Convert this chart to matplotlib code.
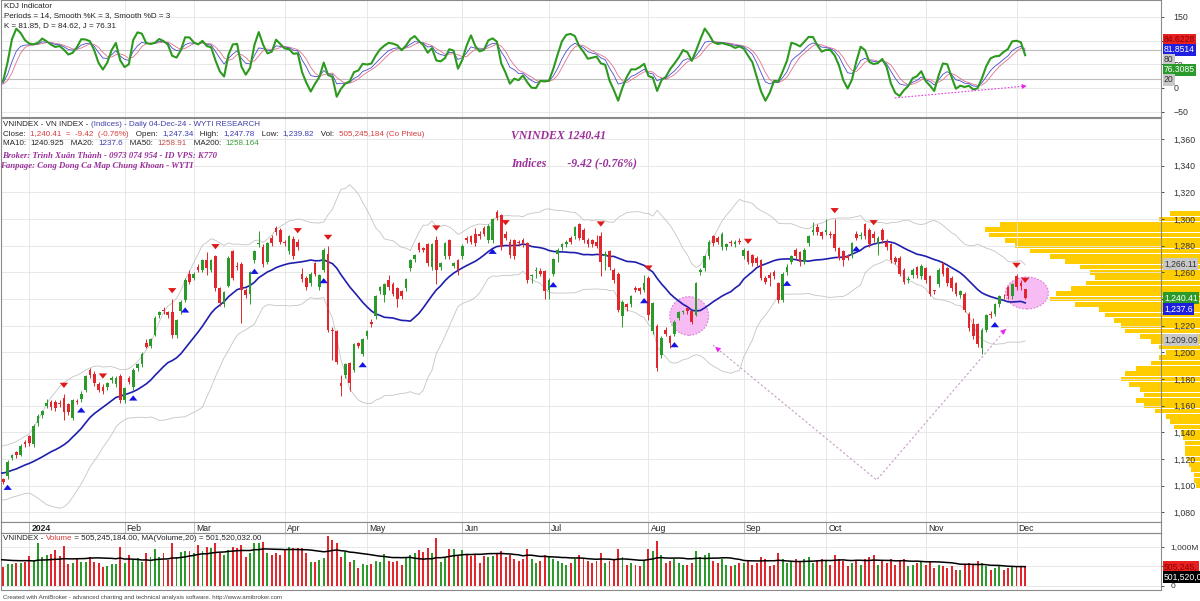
import matplotlib

matplotlib.use("Agg")
import matplotlib.pyplot as plt
import numpy as np
import pandas as pd
from matplotlib.patches import Ellipse

W, H = 1200, 601
X0, DX = 3.3, 4.33  # pixel centre of first bar, pixels per bar

GREEN = "#2a9a2a"
RED = "#e3262b"
NAVY = "#1f1fae"
GRID = "#e4e4e4"
PURPLE = "#9a2f9a"
SANS = "Liberation Sans"
SERIF = "Liberation Serif"

START, END = "2023-12-22", "2024-12-04"
HOLIDAYS = ["2024-01-01", "2024-02-08", "2024-02-09", "2024-02-12", "2024-02-13",
            "2024-02-14", "2024-04-18", "2024-04-29", "2024-04-30", "2024-05-01",
            "2024-09-02", "2024-09-03"]

# closes of the 20 sessions before the first visible bar (indicator warm-up)
warm_close = [1105, 1102, 1098, 1103, 1100, 1102, 1108, 1115, 1118, 1122,
              1124, 1121, 1128, 1126, 1115, 1106, 1098, 1100, 1102, 1099]
warm_vol = [650, 700, 720, 680, 640, 600, 750, 800, 700, 690,
            720, 650, 800, 700, 760, 640, 600, 620, 580, 560]

opens = [
    1105, 1107, 1121, 1125, 1123, 1133,
    1137, 1131, 1147, 1153, 1160, 1163, 1163, 1162, 1166, 1161, 1151, 1163, 1165, 1172, 1187, 1184,
    1176, 1174, 1174, 1179, 1176, 1182,
    1164, 1181, 1174, 1188, 1191, 1207, 1205, 1213, 1228, 1232, 1230, 1230, 1213, 1231, 1239, 1259,
    1256, 1264, 1262, 1269, 1262, 1272, 1248, 1236, 1250, 1276, 1264, 1266, 1247, 1244, 1269, 1281,
    1279, 1268, 1286, 1293, 1292,
    1282, 1276, 1285, 1283, 1259, 1256, 1252, 1267, 1249, 1262, 1274, 1216, 1216, 1177, 1183, 1192,
    1187, 1207, 1199,
    1212, 1223, 1227, 1246, 1243, 1254, 1251, 1248, 1246, 1248, 1263, 1270, 1282, 1278, 1281, 1264,
    1284, 1264, 1272, 1284, 1265, 1269,
    1272, 1286, 1287, 1289, 1289, 1293, 1284, 1284, 1305, 1303, 1289, 1283, 1284, 1282, 1284, 1282,
    1257, 1261, 1261, 1261,
    1247, 1259, 1274, 1279, 1281, 1286, 1287, 1296, 1292, 1284, 1284, 1283, 1287, 1272, 1276, 1262,
    1259, 1227, 1236, 1236, 1248, 1248, 1247,
    1256, 1216, 1220, 1198, 1217, 1212, 1214, 1226, 1230, 1233, 1231, 1228, 1260, 1263, 1272, 1287,
    1286, 1279, 1279, 1283, 1281, 1283,
    1272, 1276, 1273, 1271, 1269, 1256, 1258, 1260, 1252, 1239, 1260, 1268, 1277, 1275, 1268, 1282,
    1290, 1294, 1290,
    1290, 1289, 1289, 1278, 1276, 1272, 1273, 1289, 1287, 1296, 1292, 1289, 1281, 1292, 1283, 1281,
    1271, 1271, 1262, 1254, 1258, 1264, 1257,
    1263, 1257, 1246, 1251, 1267, 1263, 1256, 1252, 1243, 1244, 1229, 1221, 1221, 1203, 1217, 1229,
    1229, 1236, 1242, 1249, 1242,
    1257, 1252, 1247.34,
]
highs = [
    1106, 1119, 1124, 1126, 1131, 1134,
    1138, 1146, 1154, 1157, 1165, 1164, 1164, 1164, 1169, 1162, 1165, 1165, 1171, 1183, 1188, 1186,
    1178, 1176, 1178, 1182, 1182, 1184,
    1174, 1182, 1188, 1192, 1200, 1210, 1211, 1227, 1231, 1234, 1231, 1240, 1225, 1239, 1256, 1262,
    1260, 1266, 1270, 1275, 1270, 1273, 1249, 1246, 1272, 1277, 1268, 1268, 1248, 1261, 1277, 1291,
    1281, 1283, 1288, 1295, 1293,
    1284, 1288, 1287, 1285, 1263, 1257, 1260, 1268, 1259, 1278, 1280, 1219, 1217, 1183, 1192, 1193,
    1207, 1208, 1211,
    1217, 1225, 1243, 1250, 1252, 1258, 1253, 1249, 1247, 1256, 1270, 1274, 1283, 1279, 1282, 1282,
    1287, 1268, 1283, 1285, 1268, 1270,
    1281, 1287, 1288, 1293, 1291, 1295, 1296, 1301, 1307, 1304, 1291, 1285, 1285, 1284, 1286, 1283,
    1259, 1264, 1263, 1262,
    1256, 1271, 1278, 1282, 1284, 1287, 1295, 1297, 1293, 1286, 1285, 1288, 1290, 1276, 1277, 1263,
    1260, 1239, 1237, 1243, 1250, 1249, 1258,
    1257, 1238, 1221, 1212, 1219, 1213, 1224, 1231, 1232, 1234, 1232, 1253, 1263, 1273, 1284, 1288,
    1287, 1290, 1282, 1284, 1284, 1286,
    1278, 1277, 1274, 1272, 1270, 1257, 1260, 1262, 1253, 1260, 1266, 1273, 1278, 1276, 1278, 1288,
    1298, 1296, 1291,
    1300, 1291, 1300, 1279, 1277, 1274, 1283, 1291, 1290, 1297, 1293, 1291, 1287, 1293, 1285, 1282,
    1272, 1272, 1263, 1257, 1263, 1265, 1266,
    1264, 1258, 1247, 1263, 1268, 1264, 1257, 1253, 1247, 1245, 1230, 1226, 1222, 1218, 1229, 1231,
    1237, 1243, 1244, 1250, 1252,
    1259, 1254, 1247.78,
]
lows = [
    1101, 1105, 1119, 1121, 1122, 1129,
    1130, 1129, 1145, 1151, 1158, 1157, 1156, 1159, 1149, 1153, 1149, 1161, 1163, 1170, 1181, 1175,
    1170, 1169, 1172, 1177, 1174, 1162,
    1162, 1176, 1172, 1186, 1189, 1203, 1203, 1212, 1226, 1229, 1226, 1211, 1211, 1229, 1238, 1251,
    1254, 1260, 1260, 1258, 1260, 1246, 1235, 1234, 1249, 1254, 1262, 1222, 1241, 1236, 1267, 1279,
    1264, 1266, 1280, 1288, 1281,
    1280, 1274, 1270, 1277, 1253, 1247, 1250, 1257, 1247, 1260, 1215, 1194, 1191, 1167, 1181, 1171,
    1185, 1203, 1197,
    1210, 1219, 1225, 1244, 1238, 1247, 1242, 1234, 1240, 1246, 1261, 1268, 1275, 1275, 1265, 1262,
    1251, 1262, 1270, 1270, 1263, 1258,
    1270, 1282, 1281, 1280, 1285, 1287, 1282, 1282, 1299, 1277, 1284, 1271, 1270, 1280, 1279, 1252,
    1252, 1256, 1257, 1240,
    1240, 1257, 1268, 1277, 1279, 1281, 1285, 1284, 1282, 1279, 1279, 1278, 1257, 1262, 1262, 1252,
    1230, 1219, 1231, 1234, 1245, 1244, 1245,
    1224, 1214, 1186, 1196, 1212, 1203, 1212, 1224, 1229, 1229, 1221, 1227, 1258, 1261, 1270, 1280,
    1281, 1277, 1277, 1280, 1279, 1281,
    1270, 1266, 1265, 1265, 1254, 1251, 1250, 1255, 1237, 1238, 1258, 1266, 1270, 1265, 1266, 1280,
    1288, 1288, 1285,
    1288, 1286, 1276, 1269, 1265, 1269, 1271, 1284, 1285, 1285, 1279, 1283, 1273, 1282, 1277, 1267,
    1266, 1257, 1251, 1252, 1256, 1256, 1255,
    1252, 1242, 1244, 1249, 1257, 1250, 1246, 1242, 1241, 1230, 1216, 1210, 1204, 1199, 1215, 1226,
    1227, 1234, 1240, 1240, 1240,
    1247, 1247, 1239.82,
]
closes = [
    1103, 1118, 1123, 1123, 1130, 1131,
    1132, 1145, 1152, 1156, 1162, 1159, 1158, 1161, 1155, 1155, 1164, 1163, 1169, 1182, 1183, 1177,
    1172, 1171, 1177, 1181, 1181, 1164,
    1173, 1178, 1187, 1191, 1199, 1204, 1210, 1226, 1230, 1231, 1228, 1213, 1224, 1238, 1254, 1253,
    1259, 1262, 1269, 1263, 1269, 1248, 1237, 1245, 1271, 1256, 1264, 1247, 1243, 1260, 1276, 1282,
    1266, 1282, 1282, 1290, 1283,
    1282, 1287, 1272, 1279, 1255, 1249, 1259, 1259, 1258, 1277, 1217, 1216, 1193, 1175, 1191, 1177,
    1206, 1205, 1210,
    1216, 1221, 1242, 1249, 1251, 1249, 1244, 1240, 1242, 1255, 1269, 1273, 1277, 1277, 1267, 1281,
    1262, 1267, 1282, 1272, 1267, 1262,
    1280, 1284, 1283, 1282, 1287, 1289, 1295, 1300, 1301, 1279, 1286, 1273, 1272, 1282, 1282, 1254,
    1258, 1262, 1259, 1246,
    1254, 1270, 1277, 1281, 1283, 1283, 1294, 1286, 1284, 1281, 1281, 1280, 1268, 1274, 1264, 1254,
    1232, 1238, 1234, 1242, 1247, 1246, 1252,
    1228, 1237, 1188, 1211, 1214, 1207, 1223, 1230, 1231, 1231, 1223, 1252, 1262, 1272, 1283, 1282,
    1283, 1289, 1281, 1282, 1283, 1283,
    1277, 1268, 1267, 1267, 1256, 1253, 1256, 1257, 1239, 1259, 1264, 1272, 1272, 1268, 1277, 1287,
    1292, 1290, 1287,
    1292, 1288, 1278, 1271, 1269, 1271, 1282, 1286, 1288, 1287, 1281, 1286, 1286, 1284, 1279, 1269,
    1268, 1259, 1253, 1255, 1262, 1258, 1265,
    1254, 1244, 1246, 1262, 1259, 1252, 1248, 1244, 1246, 1232, 1218, 1212, 1206, 1217, 1228, 1228,
    1236, 1242, 1242, 1242, 1251,
    1249, 1249.83, 1240.41,
]
# volume in millions of shares
volumes = [
    496, 556, 564, 581, 598, 624,
    769, 650, 1094, 752, 795, 821, 923, 769, 1026, 556, 581, 684, 624, 624, 752, 624,
    581, 479, 513, 564, 564, 1009,
    581, 795, 667, 709, 624, 838, 752, 949, 752, 855, 667, 1094, 752, 880, 897, 906,
    838, 1051, 906, 992, 966, 1094, 838, 795, 923, 992, 966, 1043, 752, 855, 1094, 1094,
    1137, 838, 795, 855, 795,
    923, 992, 966, 966, 983, 838, 624, 624, 667, 709, 1282, 1180, 1094, 752, 880, 624,
    667, 453, 564,
    538, 564, 650, 624, 821, 650, 607, 650, 538, 752, 795, 838, 923, 880, 966, 838,
    1222, 624, 709, 940, 940, 769,
    923, 795, 769, 795, 581, 769, 752, 769, 838, 900, 750, 800, 700, 650, 700, 950,
    700, 600, 650, 800,
    750, 700, 650, 600, 550, 600, 700, 800, 700, 650, 600, 650, 850, 600, 650, 700,
    950, 750, 550, 600, 550, 500, 650,
    950, 900, 1150, 800, 600, 650, 700, 600, 550, 550, 600, 900, 750, 800, 850, 650,
    600, 700, 550, 500, 550, 600,
    600, 650, 550, 600, 750, 700, 500, 550, 850, 700, 600, 650, 700, 650, 700, 750,
    600, 650, 700,
    650, 550, 800, 700, 650, 500, 600, 650, 550, 700, 750, 800, 550, 650, 600, 700,
    550, 650, 700, 500, 550, 600, 650,
    550, 650, 450, 550, 500, 450, 500, 420, 400, 550, 600, 550, 650, 600, 500, 420,
    450, 500, 400, 450, 480,
    520, 480, 505.245,
]

# price-volume distribution (relative volume, max = 100)
profile_levels = list(range(1100, 1308, 4))
profile_rel = [2, 3, 3, 4, 5, 6, 7, 7, 7, 8, 9, 12, 14, 16, 21, 26, 30, 26, 28, 33,
               37, 35, 30, 23, 19, 16, 19, 23, 28, 35, 37, 40, 44, 47, 58, 70, 67, 60,
               53, 49, 51, 56, 63, 70, 79, 86, 91, 98, 100, 93, 19, 14]

buy_idx = [1, 18, 30, 42, 58, 74, 83, 113, 127, 148, 155, 181, 197, 229]
sell_idx = [14, 23, 39, 49, 68, 75, 100, 116, 138, 149, 172, 192, 201, 234, 236]


def _rect(x0, y0, x1, y1):
    return [x0 / W, 1 - y1 / H, (x1 - x0) / W, (y1 - y0) / H]


def _seg(fig, x, y, parts, size, family=SANS, **kw):
    r = fig.canvas.get_renderer()
    for s, col in parts:
        t = fig.text(x / W, 1 - y / H, s, color=col, fontsize=size, family=family,
                     va="center", ha="left", **kw)
        x += t.get_window_extent(r).width


def _box(fig, x, y, s, fc, tc, size=6.2):
    fig.text(x / W, 1 - y / H, s, fontsize=size, family=SANS, color=tc, va="center",
             ha="left", zorder=20, clip_on=False,
             bbox=dict(boxstyle="square,pad=0.12", fc=fc, ec="none"))


def _frame(ax, xl, month_idx, pad=7, size=6.3):
    ax.set_xlim(*xl)
    ax.set_facecolor("none")
    for sp in ax.spines.values():
        sp.set_color("#8a8a8a")
        sp.set_linewidth(0.8)
    ax.set_xticks(month_idx)
    ax.tick_params(axis="x", length=0, labelbottom=False)
    ax.yaxis.tick_right()
    ax.tick_params(axis="y", direction="out", length=2, width=0.6, pad=pad,
                   labelsize=size, colors="#333333")
    for lab in ax.get_yticklabels():
        lab.set_family(SANS)
    ax.grid(True, color=GRID, lw=0.6, zorder=0)
    ax.set_axisbelow(True)


def main():
    o = np.array(opens, float)
    c = np.array(closes, float)
    hi = np.maximum(np.array(highs, float), np.maximum(o, c))
    lo = np.minimum(np.array(lows, float), np.minimum(o, c))
    v = np.array(volumes, float)
    n = len(c)
    x = np.arange(n)
    nw = len(warm_close)
    xa = np.arange(-nw, n)

    days = pd.bdate_range(START, END)
    days = days[~days.isin(pd.to_datetime(HOLIDAYS))][:n]
    per = days.to_period("M")
    month_idx = [i for i in range(1, len(days)) if per[i] != per[i - 1]]
    month_lab = ["2024" if days[i].month == 1 else days[i].strftime("%b") for i in month_idx]

    # indicators
    ca = pd.Series(np.r_[warm_close, c])
    ha = pd.Series(np.r_[warm_close, hi])
    la = pd.Series(np.r_[warm_close, lo])
    ma20 = ca.rolling(20).mean()
    sd20 = ca.rolling(20).std(ddof=0)
    llv = la.rolling(14).min()
    hhv = ha.rolling(14).max()
    rsv = (ca - llv) / (hhv - llv) * 100
    k = rsv.rolling(3).mean()
    d = k.rolling(3).mean()
    j = 3 * k - 2 * d
    vma = pd.Series(np.r_[warm_vol, v]).rolling(20).mean()

    fig = plt.figure(figsize=(W / 100, H / 100), dpi=100)
    fig.patch.set_facecolor("white")
    xl = ((1 - X0) / DX, (1161 - X0) / DX)

    # ---- price volume distribution (behind the price pane, anchored at right edge)
    ax_prof = fig.add_axes(_rect(0, 118, 1200, 522), zorder=0)
    ax_prof.set_xlim(-100, 0)
    ax_prof.set_ylim(1072.75, 1375.75)
    ax_prof.set_axis_off()
    ax_prof.barh(profile_levels, -np.array(profile_rel) * 0.179, height=3.6,
                 color="#ffcc00", lw=0)

    # ---- KDJ pane
    ax_k = fig.add_axes(_rect(1, 0, 1161, 117), zorder=1)
    _frame(ax_k, xl, month_idx)
    ax_k.set_ylim(-61.3, 185.9)
    ax_k.set_yticks([-50, 0, 50, 100, 150])
    ax_k.axhline(80, color="#bdbdbd", lw=0.8)
    ax_k.axhline(20, color="#bdbdbd", lw=0.8)
    ax_k.plot(xa, d, color="#e0708a", lw=0.6)
    ax_k.plot(xa, k, color="#4a4ad0", lw=0.6)
    ax_k.plot(xa, j, color="#2c9a1e", lw=1.5)
    ax_k.plot([205.9, 236], [-21, 4], color="#e040e0", lw=0.8, ls=(0, (1.5, 1.5)))
    ax_k.annotate("", xy=(237, 4.6), xytext=(232.5, 1.0),
                  arrowprops=dict(arrowstyle="-|>", color="#ee22ee", lw=0, mutation_scale=9))

    # ---- price pane
    ax = fig.add_axes(_rect(1, 118, 1161, 522), zorder=1)
    _frame(ax, xl, month_idx)
    ax.set_ylim(1072.75, 1375.75)
    ax.set_yticks(np.arange(1080, 1361, 20))
    ax.yaxis.set_major_formatter(matplotlib.ticker.FuncFormatter(lambda p, _: f"{p:,.0f}"))

    ax.add_patch(Ellipse((158.4, 1227.3), 9.0, 29, fc="#f8bcf4", ec="#d27fd2",
                         lw=0.8, ls=(0, (1.5, 1.5)), zorder=1))
    ax.add_patch(Ellipse((236.4, 1244.5), 9.9, 24, fc="#f8bcf4", ec="#d27fd2",
                         lw=0.8, ls=(0, (1.5, 1.5)), zorder=1))
    ax.plot([163.9, 201.7, 232.0], [1205.5, 1104.25, 1219], color="#c99bc9", lw=0.8,
            ls=(0, (2, 2)), zorder=1)
    ax.annotate("", xy=(163.9, 1205.5), xytext=(166.4, 1198.7),
                arrowprops=dict(arrowstyle="-|>", color="#ee22ee", lw=0, mutation_scale=10))
    ax.annotate("", xy=(232.0, 1219), xytext=(229.8, 1211.9),
                arrowprops=dict(arrowstyle="-|>", color="#ee22ee", lw=0, mutation_scale=10))

    ax.plot(xa, ma20 + 2 * sd20, color="#c4c4c4", lw=0.6, zorder=2)
    ax.plot(xa, ma20 - 2 * sd20, color="#c4c4c4", lw=0.6, zorder=2)
    ax.plot(xa, ma20, color=NAVY, lw=1.2, zorder=3)

    col = np.where(c > o, GREEN, RED)
    ax.vlines(x, lo, hi, colors=col, lw=0.7, zorder=4)
    ax.bar(x, np.maximum(np.abs(c - o), 0.5), bottom=np.minimum(o, c), width=0.62,
           color=col, lw=0, zorder=5)
    arrow = "simple,head_width=0.8,head_length=0.5,tail_width=0.35"
    for i in buy_idx:
        ax.annotate("", xy=(i, lo[i] - 2.2), xytext=(i, lo[i] - 9.5),
                    arrowprops=dict(arrowstyle=arrow, color="#1414e0", lw=0,
                                    mutation_scale=7.5), zorder=6)
    for i in sell_idx:
        ax.annotate("", xy=(i, hi[i] + 2.2), xytext=(i, hi[i] + 9.5),
                    arrowprops=dict(arrowstyle=arrow, color="#e01818", lw=0,
                                    mutation_scale=7.5), zorder=6)

    # ---- time strip
    ax_t = fig.add_axes(_rect(1, 522, 1161, 533), zorder=1)
    ax_t.set_xlim(*xl)
    ax_t.set_ylim(0, 1)
    ax_t.set_xticks([])
    ax_t.set_yticks([])
    for sp in ax_t.spines.values():
        sp.set_color("#8a8a8a")
        sp.set_linewidth(0.8)
    for i, lab in zip(month_idx, month_lab):
        ax_t.axvline(i, color="#b0b0b0", lw=0.6)
        ax_t.text(i + 0.5, 0.45, lab, fontsize=6.2, family=SANS, va="center", ha="left",
                  color="#222222", fontweight="bold" if lab == "2024" else "normal")

    # ---- volume pane
    ax_v = fig.add_axes(_rect(1, 533, 1161, 590), zorder=1)
    _frame(ax_v, xl, month_idx, pad=5, size=6.0)
    ax_v.set_ylim(-102.6, 1359)
    ax_v.set_yticks([0, 500, 1000])
    ax_v.set_yticklabels(["0", "500M", "1,000M"])
    ax_v.bar(x, v, width=0.45, color=col, lw=0, zorder=3)
    ax_v.plot(xa, vma, color="black", lw=1.1, zorder=4)

    # ---- texts
    fs = 5.8
    blk, blu, red = "#222222", "#3b3bb0", "#d83a3a"
    _seg(fig, 4, 6, [("KDJ Indicator", blk)], fs)
    _seg(fig, 4, 16, [("Periods = 14, Smooth %K = 3, Smooth %D = 3", blk)], fs)
    _seg(fig, 4, 25.5, [("K = 81.85, D = 84.62, J = 76.31", blk)], fs)

    _seg(fig, 3, 124, [("VNINDEX - VN INDEX - ", blk),
                       ("(Indices) - Daily 04-Dec-24 - WYTI RESEARCH", "#4040a8")], fs)
    _seg(fig, 3, 134, [("Close:  ", blk), ("1,240.41  =  -9.42  (-0.76%)", red),
                       ("   Open:  ", blk), ("1,247.34", blu), ("   High:  ", blk),
                       ("1,247.78", blu), ("   Low:  ", blk), ("1,239.82", blu),
                       ("   Vol:  ", blk), ("505,245,184 (Co Phieu)", red)], fs)
    _seg(fig, 3, 143.5, [("MA10:  ", blk), ("1240.925", blk), ("   MA20:  ", blk),
                         ("1237.6", blu), ("   MA50:  ", blk), ("1258.91", "#c24a4a"),
                         ("   MA200:  ", blk), ("1258.164", "#3a9a3a")], fs)
    _seg(fig, 2, 156, [("Broker: Trình Xuân Thành - 0973 074 954 - ID VPS: K770", PURPLE)],
         6.3, family=SERIF, fontweight="bold", style="italic")
    _seg(fig, 0, 166, [("Fanpage: Cong Dong Ca Map Chung Khoan - WYTI", PURPLE)],
         6.3, family=SERIF, fontweight="bold", style="italic")
    _seg(fig, 511, 136, [("VNINDEX 1240.41", PURPLE)], 8.5, family=SERIF,
         fontweight="bold", style="italic")
    _seg(fig, 511, 163, [("Indices       -9.42 (-0.76%)", PURPLE)], 8.5, family=SERIF,
         fontweight="bold", style="italic")

    _seg(fig, 3, 538.5, [("VNINDEX - ", blk), ("Volume", red),
                         (" = 505,245,184.00, MA(Volume,20) = 501,520,032.00", blk)], fs)
    _seg(fig, 3, 597, [("Created with AmiBroker - advanced charting and technical analysis "
                        "software. http://www.amibroker.com", "#444444")], 4.4)

    # right-axis value boxes
    _box(fig, 1164, 40, "84.6228", "#e82020", "#8a0000")
    _box(fig, 1164, 50, "81.8514", "#1f1fe0", "white")
    _box(fig, 1164, 60, "80", "#c8c8c8", "#333333")
    _box(fig, 1164, 70, "76.3085", "#2a9a2a", "white")
    _box(fig, 1164, 80, "20", "#c8c8c8", "#333333")
    _box(fig, 1164, 264, "1,266.11", "#c8c8c8", "#333333")
    _box(fig, 1164, 298, "1,240.41", "#2a9a2a", "white")
    _box(fig, 1164, 309, "1,237.6", "#1f1fe0", "white")
    _box(fig, 1164, 340, "1,209.09", "#c8c8c8", "#333333")
    _box(fig, 1164, 567, "505,245,", "#e82020", "#8a0000")
    _box(fig, 1164, 577, "501,520,0", "black", "white")

    fig.savefig("out.png", dpi=100)
    plt.close(fig)


if __name__ == "__main__":
    main()
